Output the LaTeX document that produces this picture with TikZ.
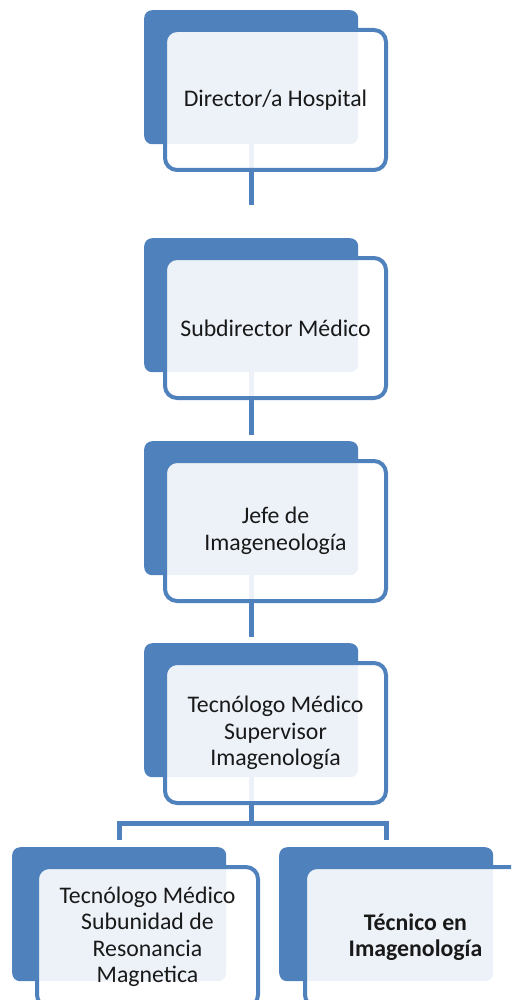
\documentclass[tikz,border=0pt]{standalone}
\usepackage{fontspec}
\setmainfont{Carlito}
\usepackage{xcolor}
\usetikzlibrary{positioning}
\definecolor{accent}{HTML}{4F81BD}

\begin{document}
\begin{tikzpicture}[x=1pt, y=-1pt,
  back/.style={rectangle, fill=accent, rounded corners=8pt, minimum width=214pt,
    minimum height=134pt, anchor=north west, inner sep=0pt},
  card/.style={rectangle, draw=accent, line width=4pt, fill=white, fill opacity=0.9,
    text opacity=1, rounded corners=12pt, minimum width=221pt, minimum height=140pt,
    align=center, text=black!90, inner sep=0pt, font=\fontsize{23.8}{26.5}\selectfont},
  cardbold/.style={card, font=\fontsize{23.8}{26.5}\selectfont\bfseries},
  link/.style={draw=accent, line width=5pt}]

  \useasboundingbox (0,0) rectangle (511,1000);
  \clip (0,0) rectangle (511,1000);

  % blue backs
  \node[back] (DirBk) at (144,10) {};
  \node[back] (SubBk) at (144,238) {};
  \node[back] (JefeBk) at (144,441) {};
  \node[back] (SupBk) at (144,643) {};
  \node[back] (TmBk) at (12,847) {};
  \node[back] (TecBk) at (279,847) {};

  \coordinate (DirEnd) at (DirBk.south |- 0,205);

  % connectors, under the cards
  \draw[link] (DirBk.south) -- (DirEnd);
  \draw[link, shorten >=6pt] (SubBk.south) -- (JefeBk.north);
  \draw[link, shorten >=6pt] (JefeBk.south) -- (SupBk.north);
  \draw[link, shorten >=7pt] (SupBk.south) -- ++(0,46) -| (TmBk.north);
  \draw[link, shorten >=7pt] (SupBk.south) -- ++(0,46) -| (TecBk.north);

  % cards
  \node[card, below right=18pt and 19pt of DirBk.north west] (Dir) {Director/a Hospital};
  \node[card, below right=18pt and 19pt of SubBk.north west] (Sub) {Subdirector Médico};
  \node[card, below right=18pt and 19pt of JefeBk.north west] (Jefe) {Jefe de\\Imageneología};
  \node[card, below right=18pt and 19pt of SupBk.north west] (Sup) {Tecnólogo Médico\\Supervisor\\Imagenología};
  \node[card, below right=18pt and 23pt of TmBk.north west] (TmRm) {Tecnólogo Médico\\Subunidad de\\Resonancia\\Magnetica};
  \node[cardbold, below right=18pt and 24pt of TecBk.north west] (TecIm) {Técnico en\\Imagenología};

\end{tikzpicture}
\end{document}
